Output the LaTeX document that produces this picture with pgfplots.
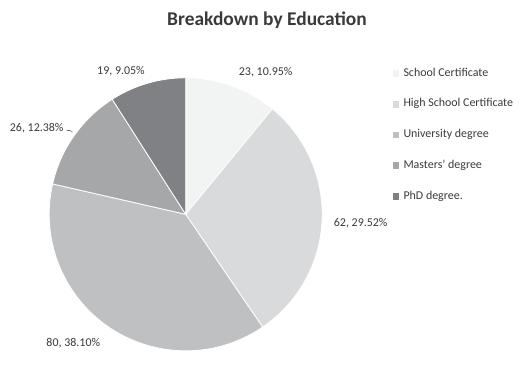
\documentclass[border=0pt]{standalone}
\usepackage{pgfplots}
\pgfplotsset{compat=1.18}
\usepackage{pgfplotstable}
\usepackage{fontspec}
\setmainfont{Carlito}
\definecolor{pie0}{HTML}{F2F3F3}
\definecolor{pie1}{HTML}{D9DADB}
\definecolor{pie2}{HTML}{BFC0C2}
\definecolor{pie3}{HTML}{A6A7A9}
\definecolor{pie4}{HTML}{808184}
\definecolor{txt}{HTML}{3A3A3A}
\pgfplotstableread[col sep=comma]{
name,value,pct
School Certificate,23,10.95
High School Certificate,62,29.52
University degree,80,38.10
Masters degree,26,12.38
PhD degree,19,9.05
}\pietable
\begin{document}
\begin{tikzpicture}
\begin{axis}[
  x=1bp, y=1bp, xmin=0, xmax=520, ymin=0, ymax=351,
  scale only axis, hide axis, clip=false,
  legend style={at={(axis cs:392.5,283.3)}, anchor=north west, draw=none, fill=none,
    inner sep=0pt, outer sep=0pt, row sep=19.75bp,
    font=\fontsize{12}{13}\selectfont, text=txt,
    nodes={inner sep=0pt, text height=8.5bp, text depth=2.5bp}},
  legend cell align=left,
  /tikz/every odd column/.append style={column sep=4.8bp},
]
\path (axis cs:0,0) rectangle (axis cs:520,351);
\def\total{0}
\pgfplotsforeachungrouped \i in {0,...,4}{%
  \pgfplotstablegetelem{\i}{value}\of\pietable
  \pgfmathsetmacro\total{\total+\pgfplotsretval}%
}
\def\cum{0}
\pgfplotsforeachungrouped \i in {0,...,4}{%
  \pgfplotstablegetelem{\i}{value}\of\pietable
  \let\val\pgfplotsretval
  \pgfmathsetmacro\angA{90-\cum/\total*360}%
  \pgfmathsetmacro\cum{\cum+\val}%
  \pgfmathsetmacro\angB{90-\cum/\total*360}%
  \edef\tmp{\noexpand\fill[fill=pie\i, draw=white, line width=0.8bp] (axis cs:185.7,136.7) -- ++(\angA:136.5bp) arc[start angle=\angA, end angle=\angB, radius=136.5bp] -- cycle;}%
  \tmp
}
\addlegendimage{legend image code/.code={\fill[pie0] (0bp,-2.8bp) rectangle (5.8bp,2.8bp);}}
\addlegendimage{legend image code/.code={\fill[pie1] (0bp,-2.8bp) rectangle (5.8bp,2.8bp);}}
\addlegendimage{legend image code/.code={\fill[pie2] (0bp,-2.8bp) rectangle (5.8bp,2.8bp);}}
\addlegendimage{legend image code/.code={\fill[pie3] (0bp,-2.8bp) rectangle (5.8bp,2.8bp);}}
\addlegendimage{legend image code/.code={\fill[pie4] (0bp,-2.8bp) rectangle (5.8bp,2.8bp);}}
\legend{School Certificate, High School Certificate, University degree, Masters’ degree, PhD degree.}
\node[font=\bfseries\fontsize{19.5}{21}\selectfont, text=txt] at (axis cs:267,331) {Breakdown by Education};
\begin{scope}[every node/.style={font=\fontsize{12}{13}\selectfont, text=txt, inner sep=0pt}]
\node at (axis cs:265.7,278.7) {23, 10.95\%};
\node at (axis cs:360.7,128.3) {62, 29.52\%};
\node at (axis cs:73.3,7.7) {80, 38.10\%};
\node at (axis cs:36.7,222.7) {26, 12.38\%};
\node at (axis cs:121,280) {19, 9.05\%};
\end{scope}
\draw[txt!70, line width=0.6bp] (axis cs:66.5,220.5) -- (axis cs:70,220.5) -- (axis cs:72.5,219);
\end{axis}
\end{tikzpicture}
\end{document}
